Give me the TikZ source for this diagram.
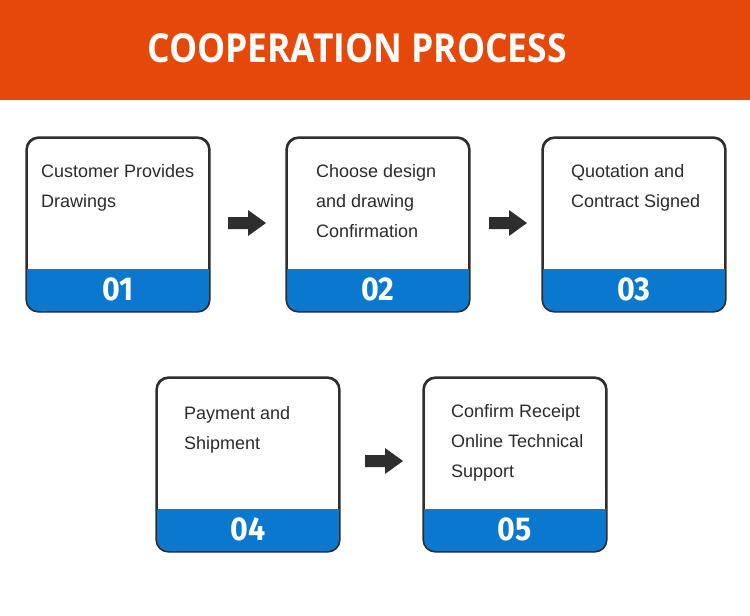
\documentclass[tikz,border=0pt]{standalone}
\usepackage{fontspec}
\setmainfont{Liberation Sans}
\newfontfamily\titlefont{Open Sans}[UprightFont=* Bold, FakeStretch=0.886]
\newfontfamily\numfont{Fira Sans}[UprightFont=* Bold, FakeStretch=0.92]
\usetikzlibrary{shadows,calc}
\definecolor{hdr}{HTML}{E6480A}
\definecolor{band}{HTML}{0A78CF}
\definecolor{ink}{HTML}{2B2B2B}
\definecolor{frame}{HTML}{2E2E2E}
\tikzset{
  card/.style={draw=frame, line width=1.6pt, rounded corners=12pt, fill=white,
    minimum width=182pt, minimum height=173pt, inner sep=0pt,
    drop shadow={opacity=0.18, shadow xshift=1pt, shadow yshift=-2pt}},
  cardtext/.style={anchor=north west, inner sep=0pt, align=left, text=ink,
    font=\fontsize{18pt}{30pt}\selectfont},
  num/.style={text=white, inner sep=0pt, font=\numfont\fontsize{33pt}{33pt}\selectfont},
  flowarrow/.style={fill=frame, draw=none}
}
\newcommand{\bandfill}[1]{%
  \begin{scope}
    \clip[rounded corners=12pt] (#1.south west) rectangle (#1.north east);
    \fill[band] (#1.south west) rectangle ([yshift=43pt]#1.south east);
  \end{scope}
  \draw[frame, line width=1.6pt, rounded corners=12pt] (#1.south west) rectangle (#1.north east);
}
\newcommand{\flowarr}[3]{% name, left x, center y
  \fill[flowarrow] (#2,#3-6) -- (#2+20,#3-6) -- (#2+20,#3-13) -- (#2+38,#3) -- (#2+20,#3+13) -- (#2+20,#3+6) -- (#2,#3+6) -- cycle;
  \coordinate (#1) at (#2+19,#3);
}
\begin{document}
\begin{tikzpicture}[x=1pt,y=-1pt]
\useasboundingbox (0,0) rectangle (750,616);
\fill[white] (0,0) rectangle (750,616);
\fill[hdr] (0,0) rectangle (750,100);
\node[text=white, inner sep=0pt, font=\titlefont\fontsize{40pt}{40pt}\selectfont] (title) at (357,48) {COOPERATION PROCESS};

% cards
\node[card] (b1) at (118,224.5) {};
\node[card] (b2) at (378,224.5) {};
\node[card] (b3) at (634,224.5) {};
\node[card] (b4) at (248,464.5) {};
\node[card] (b5) at (515,464.5) {};
\foreach \b in {b1,b2,b3,b4,b5} {\bandfill{\b}}

\node[num] (n1) at ([yshift=22pt]b1.south) {01};
\node[num] (n2) at ([yshift=22pt]b2.south) {02};
\node[num] (n3) at ([yshift=22pt]b3.south) {03};
\node[num] (n4) at ([yshift=22pt]b4.south) {04};
\node[num] (n5) at ([yshift=22pt]b5.south) {05};

\node[cardtext] (t1) at (41,164) {Customer Provides\\Drawings};
\node[cardtext] (t2) at (316,164) {Choose design\\and drawing\\Confirmation};
\node[cardtext] (t3) at (571,164) {Quotation and\\Contract Signed};
\node[cardtext] (t4) at (184,406) {Payment and\\Shipment};
\node[cardtext] (t5) at (451,404) {Confirm Receipt\\Online Technical\\Support};

\flowarr{a1}{228}{223}
\flowarr{a2}{489}{223}
\flowarr{a3}{365}{461}
\end{tikzpicture}
\end{document}
